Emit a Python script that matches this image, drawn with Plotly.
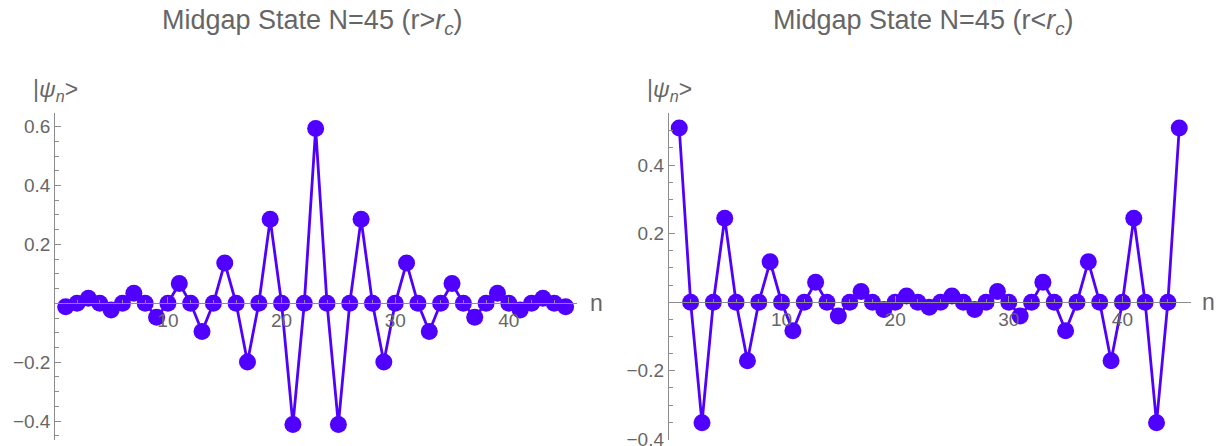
import plotly.graph_objects as go

W, H = 1219, 446

# Site index n = 1..45
n_sites = list(range(1, 46))

# Midgap state amplitudes on odd sites (r > r_c): localized at the chain centre
odd_amp_above = [-0.012, 0.017, -0.023, 0.034, -0.047, 0.067, -0.096, 0.137,
                 -0.199, 0.285, -0.411, 0.593, -0.411, 0.285, -0.199, 0.137,
                 -0.096, 0.067, -0.047, 0.034, -0.023, 0.017, -0.012]

# Midgap state amplitudes on odd sites (r < r_c): localized at both ends
odd_amp_below = [0.508, -0.352, 0.245, -0.171, 0.118, -0.083, 0.058, -0.040,
                 0.031, -0.021, 0.018, -0.015, 0.018, -0.021, 0.031, -0.040,
                 0.058, -0.083, 0.118, -0.171, 0.245, -0.352, 0.508]

# Even sites carry zero amplitude
def full_state(odd_vals):
    out = []
    for n in n_sites:
        out.append(odd_vals[(n - 1) // 2] if n % 2 == 1 else 0.0)
    return out

psi_above = full_state(odd_amp_above)
psi_below = full_state(odd_amp_below)

titles = ["Midgap State N=45 (r&gt;<i>r</i><sub><i>c</i></sub>)",
          "Midgap State N=45 (r&lt;<i>r</i><sub><i>c</i></sub>)"]

x_ticks = [10, 20, 30, 40]
y_ticks_left = [-0.4, -0.2, 0.2, 0.4, 0.6]
y_ticks_right = [-0.4, -0.2, 0.2, 0.4]

MARK = "#5000ff"
AXIS = "#8c8c8c"
TEXT = "#666666"
FONT = "Liberation Sans, Arial, sans-serif"

x_range = [0, 46]
y_range_left = [-0.464, 0.646]
y_range_right = [-0.402, 0.552]

y_dom = [1 - 440 / H, 1 - 113 / H]
x_dom_left = [54.3 / W, 577.0 / W]
x_dom_right = [667.9 / W, 1190.6 / W]


def zero_pos(yr):
    frac = (0 - yr[0]) / (yr[1] - yr[0])
    return y_dom[0] + frac * (y_dom[1] - y_dom[0])


fig = go.Figure()
fig.add_trace(go.Scatter(x=n_sites, y=psi_above, mode="lines+markers",
                         line=dict(color=MARK, width=2.8),
                         marker=dict(color=MARK, size=17),
                         xaxis="x", yaxis="y", showlegend=False))
fig.add_trace(go.Scatter(x=n_sites, y=psi_below, mode="lines+markers",
                         line=dict(color=MARK, width=2.8),
                         marker=dict(color=MARK, size=17),
                         xaxis="x2", yaxis="y2", showlegend=False))

tick_font = dict(family=FONT, size=19, color=TEXT)


def xaxis_cfg(dom, anchor_pos):
    return dict(domain=dom, range=x_range, anchor="free", position=anchor_pos,
                automargin=False,
                showline=True, linecolor=AXIS, linewidth=1.2,
                showgrid=False, zeroline=False,
                tickmode="array", tickvals=x_ticks, ticks="inside",
                ticklen=6, tickcolor=AXIS, tickfont=tick_font,
                minor=dict(tickmode="linear", tick0=0, dtick=2, ticks="inside",
                           ticklen=3.5, tickcolor=AXIS, showgrid=False))


def yaxis_cfg(yr, vals, free_x):
    return dict(domain=y_dom, range=yr, anchor="free", position=free_x,
                automargin=False,
                showline=True, linecolor=AXIS, linewidth=1.2,
                showgrid=False, zeroline=False,
                tickmode="array", tickvals=vals, ticks="inside",
                ticklen=6, tickcolor=AXIS, tickfont=tick_font,
                ticklabeloverflow="allow",
                minor=dict(tickmode="linear", tick0=0, dtick=0.05, ticks="inside",
                           ticklen=3.5, tickcolor=AXIS, showgrid=False))


fig.update_layout(
    width=W, height=H, margin=dict(l=0, r=0, t=0, b=0, autoexpand=False),
    paper_bgcolor="white", plot_bgcolor="white",
    xaxis=xaxis_cfg(x_dom_left, zero_pos(y_range_left)),
    yaxis=yaxis_cfg(y_range_left, y_ticks_left, x_dom_left[0]),
    xaxis2=xaxis_cfg(x_dom_right, zero_pos(y_range_right)),
    yaxis2=yaxis_cfg(y_range_right, y_ticks_right, x_dom_right[0]),
)

annots = []
# Panel titles
for cx, t in zip([312, 924], titles):
    annots.append(dict(x=cx / W, y=1 - 22 / H, xref="paper", yref="paper",
                       text=t, showarrow=False, xanchor="center", yanchor="middle",
                       font=dict(family=FONT, size=27, color=TEXT)))
# Axis labels
for lx in [55, 669]:
    annots.append(dict(x=(lx - 24) / W, y=1 - 90 / H, xref="paper", yref="paper",
                       text="|<i>ψ</i><sub><i>n</i></sub>&gt;", showarrow=False,
                       xanchor="left", yanchor="middle",
                       font=dict(family=FONT, size=23, color=TEXT)))
for nx, ny in [(596, 303), (1208, 302)]:
    annots.append(dict(x=nx / W, y=1 - ny / H, xref="paper", yref="paper",
                       text="n", showarrow=False, xanchor="center", yanchor="middle",
                       font=dict(family=FONT, size=23, color=TEXT)))
fig.update_layout(annotations=annots)

fig.write_html("out.html")
